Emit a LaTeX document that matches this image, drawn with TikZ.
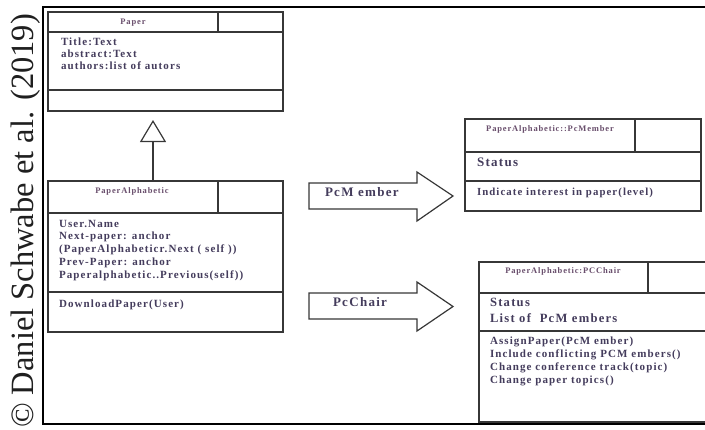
\documentclass[tikz,border=0pt]{standalone}
\usepackage{fontspec}
\setmainfont{Liberation Serif}
\newfontfamily\umlfont[LetterSpace=10]{Liberation Serif}
\usetikzlibrary{arrows.meta}
\definecolor{linegray}{RGB}{55,55,55}
\definecolor{umltext}{RGB}{68,60,92}
\definecolor{umltitle}{RGB}{105,78,108}
\begin{document}
\begin{tikzpicture}[x=1bp,y=-1bp,
  cell/.style={draw=linegray, line width=1.2bp, rectangle, inner sep=0pt, outer sep=0pt, anchor=north west},
  txt/.style={inner sep=0pt, outer sep=0pt, text=umltext, align=left, anchor=north west},
  classname/.style={inner sep=0pt, outer sep=0pt, text=umltitle, anchor=base,
    font=\umlfont\bfseries\fontsize{8.5bp}{10bp}\selectfont},
  body/.style={font=\umlfont\bfseries\fontsize{11bp}{#1}\selectfont},
  body/.default=12bp,
  blockarrow/.style={draw=linegray, line width=1.2bp, fill=white, line join=miter},
  arrowlabel/.style={inner sep=0pt, outer sep=0pt, text=umltext, anchor=base west,
    font=\umlfont\bfseries\fontsize{13bp}{15bp}\selectfont},
  generalization/.style={draw=linegray, line width=1.2bp,
    -{Triangle[open, length=22bp, width=26bp]}}
]
\useasboundingbox (0,0) rectangle (705,429);
\clip (0,0) rectangle (705,429);

% credit line along the left edge
\node[rotate=90, anchor=base, inner sep=0pt, text=black!88,
  font=\fontsize{32.5bp}{36bp}\selectfont] (credit) at (33,221)
  {© Daniel Schwabe et al. (2019)};

% outer frame (open to the right)
\draw[line width=2bp, black] (720,7) -- (43,7) -- (43,424) -- (720,424);

% ---- class Paper ----
\node[cell, minimum width=170bp, minimum height=20bp] (paperTitle) at (48,12) {};
\node[cell, minimum width=65bp, minimum height=20bp] (paperTitleR) at (218,12) {};
\node[cell, minimum width=235bp, minimum height=58bp] (paperAttr) at (48,32) {};
\node[cell, minimum width=235bp, minimum height=21bp] (paperOps) at (48,90) {};
\node[classname] (paperName) at (133,24) {Paper};
\node[txt, body] (paperAttrText) at (61,37.8)
  {Title:Text\\abstract:Text\\authors:list of autors};

% ---- class PaperAlphabetic ----
\node[cell, minimum width=170bp, minimum height=32bp] (alphaTitle) at (48,181) {};
\node[cell, minimum width=65bp, minimum height=32bp] (alphaTitleR) at (218,181) {};
\node[cell, minimum width=235bp, minimum height=79bp] (alphaAttr) at (48,213) {};
\node[cell, minimum width=235bp, minimum height=40bp] (alphaOps) at (48,292) {};
\node[classname] (alphaName) at (132,193.3) {PaperAlphabetic};
\node[txt, body=12.75bp] (alphaAttrText) at (59,219.8)
  {User.Name\\Next-paper: anchor\\(PaperAlphabeticr.Next ( self ))\\Prev-Paper: anchor\\Paperalphabetic..Previous(self))};
\node[txt, body, anchor=base west] (alphaOpsText) at (59,307) {DownloadPaper(User)};

% inheritance
\draw[generalization, shorten >=9bp]
  ([xshift=105bp]alphaTitle.north west) -- ([xshift=105bp]paperOps.south west);

% ---- class PaperAlphabetic::PcMember ----
\node[cell, minimum width=170bp, minimum height=33bp] (pcmTitle) at (465,119) {};
\node[cell, minimum width=66bp, minimum height=33bp] (pcmTitleR) at (635,119) {};
\node[cell, minimum width=236bp, minimum height=29bp] (pcmAttr) at (465,152) {};
\node[cell, minimum width=236bp, minimum height=30bp] (pcmOps) at (465,181) {};
\node[classname] (pcmName) at (550,131.7) {PaperAlphabetic::PcMember};
\node[txt, anchor=base west, font=\umlfont\bfseries\fontsize{13bp}{15bp}\selectfont]
  (pcmAttrText) at (477,166.7) {Status};
\node[txt, anchor=base west, font=\umlfont\bfseries\fontsize{10.8bp}{12bp}\selectfont]
  (pcmOpsText) at (477,195) {Indicate interest in paper(level)};

% ---- class PaperAlphabetic:PCChair ----
\node[cell, minimum width=169bp, minimum height=31bp] (pccTitle) at (479,262) {};
\node[cell, minimum width=72bp, minimum height=31bp] (pccTitleR) at (648,262) {};
\node[cell, minimum width=241bp, minimum height=38bp] (pccAttr) at (479,293) {};
\node[cell, minimum width=241bp, minimum height=91bp] (pccOps) at (479,331) {};
\node[classname] (pccName) at (563,273.3) {PaperAlphabetic:PCChair};
\node[txt, font=\umlfont\bfseries\fontsize{12.6bp}{15.6bp}\selectfont]
  (pccAttrText) at (490,298.2) {Status\\List of \ PcM embers};
\node[txt, font=\umlfont\bfseries\fontsize{11bp}{13.1bp}\selectfont]
  (pccOpsText) at (490,336.4)
  {AssignPaper(PcM ember)\\Include conflicting PCM embers()\\Change conference track(topic)\\Change paper topics()};

% ---- role arrows ----
\draw[blockarrow] (309,183) -- (417,183) -- (417,172) -- (453,196) -- (417,221)
  -- (417,209) -- (309,209) -- cycle;
\node[arrowlabel] (pcmLabel) at (325,196.7) {PcM ember};

\draw[blockarrow] (309,293) -- (417,293) -- (417,282) -- (453,306.5) -- (417,331)
  -- (417,319) -- (309,319) -- cycle;
\node[arrowlabel] (pccLabel) at (333,306.7) {PcChair};
\end{tikzpicture}
\end{document}
